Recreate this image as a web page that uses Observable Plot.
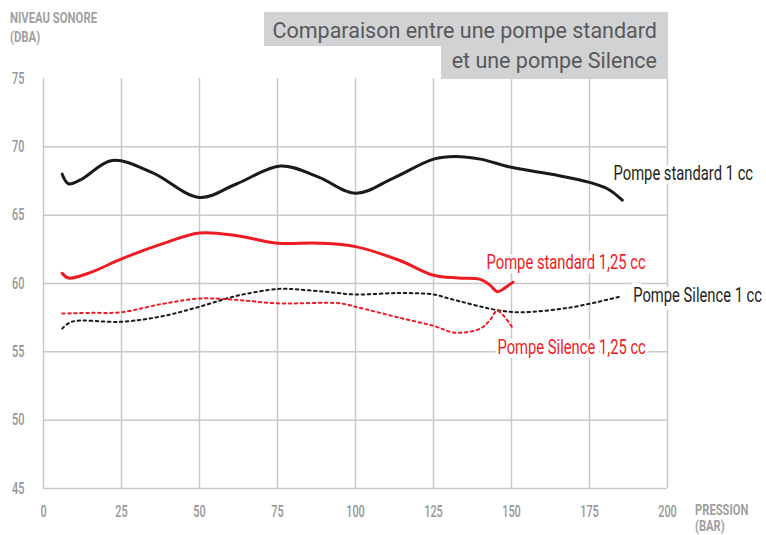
<!DOCTYPE html>
<html><head><meta charset="utf-8">
<script src="https://cdn.jsdelivr.net/npm/d3@7"></script>
<script src="https://cdn.jsdelivr.net/npm/@observablehq/plot@0.6"></script>
<style>
body{margin:0;background:#fff;}
#wrap{position:relative;width:766px;height:535px;overflow:hidden;}
.axt{position:absolute;color:#a0a0a0;font-family:Roboto,sans-serif;font-weight:bold;font-size:15.5px;line-height:19px;transform:scaleX(0.73);transform-origin:0 0;white-space:nowrap;}
.tb{position:absolute;background:#d1d2d4;color:#58595b;font-family:Roboto,"Open Sans",sans-serif;font-size:21.5px;text-align:right;box-sizing:border-box;padding-right:11px;}
</style></head>
<body><div id="wrap"></div>
<script>
// Data
const xTicks = [0, 25, 50, 75, 100, 125, 150, 175, 200];
const yTicks = [45, 50, 55, 60, 65, 70, 75];

const std1P = [6, 8, 12, 22, 35, 50, 62, 76, 88, 100, 112, 125, 132, 140, 150, 165, 175, 181, 185.5];
const std1L = [68.0, 67.3, 67.6, 69.0, 68.1, 66.3, 67.3, 68.6, 67.8, 66.6, 67.7, 69.1, 69.3, 69.1, 68.5, 67.9, 67.4, 66.9, 66.1];

const std125P = [6, 8, 15, 25, 38, 50, 62, 75, 88, 100, 114, 125, 133, 140, 143, 145.5, 148, 150.5];
const std125L = [60.75, 60.4, 60.8, 61.8, 62.9, 63.7, 63.5, 62.95, 62.95, 62.7, 61.7, 60.6, 60.4, 60.3, 59.9, 59.4, 59.7, 60.1];

const sil1P = [6, 9, 25, 38, 50, 62, 75, 79, 90, 100, 114, 125, 130, 145.5, 153, 169, 185];
const sil1L = [56.7, 57.2, 57.2, 57.6, 58.3, 59.1, 59.6, 59.6, 59.4, 59.2, 59.3, 59.2, 58.9, 58.05, 57.9, 58.25, 59.05];

const sil125P = [6, 15, 25, 38, 50, 62, 75, 95, 100, 114, 125, 132, 140, 143, 145.5, 150.5];
const sil125L = [57.8, 57.85, 57.9, 58.5, 58.9, 58.8, 58.55, 58.55, 58.3, 57.5, 56.9, 56.4, 56.7, 57.3, 58.0, 56.7];

const labelText = ["Pompe standard 1 cc", "Pompe standard 1,25 cc", "Pompe Silence 1 cc", "Pompe Silence 1,25 cc"];
const labelP = [182.7, 142, 189, 145.5];
const labelL = [68.05, 61.55, 59.1, 55.3];
const labelColor = ["#231f20", "#ed1c24", "#231f20", "#ed1c24"];

const RED = "#ed1c24", BLACK = "#1a1a1a";
const series = (P, L) => P.map((p, i) => ({p, l: L[i]}));
const labels = labelText.map((t, i) => ({t, p: labelP[i], l: labelL[i], c: labelColor[i]}));

const chart = Plot.plot({
  width: 766, height: 535,
  marginLeft: 43, marginRight: 99, marginTop: 78, marginBottom: 47,
  x: {domain: [0, 200]},
  y: {domain: [45, 75]},
  style: {fontFamily: "Roboto, sans-serif", background: "#fff", overflow: "visible"},
  marks: [
    Plot.ruleX(xTicks, {y1: 45, y2: 75, stroke: "#c9c9c9", strokeWidth: 1.5}),
    Plot.ruleY(yTicks.filter(d => d < 75), {x1: 0, x2: 200, stroke: "#c9c9c9", strokeWidth: 1.5}),
    Plot.axisX(xTicks, {tickSize: 0, tickPadding: 17, fill: "#969696", fontSize: 16.5, fontWeight: 500, label: null}),
    Plot.axisY(yTicks, {tickSize: 0, tickPadding: 19, fill: "#969696", fontSize: 16.5, fontWeight: 500, label: null}),
    Plot.text(labels, {x: "p", y: "l", text: "t", fill: "c", textAnchor: "start", fontSize: 20.5, stroke: "white", strokeWidth: 8, strokeLinejoin: "miter", className: "lbl"}),
    Plot.line(series(sil1P, sil1L), {x: "p", y: "l", stroke: BLACK, strokeWidth: 2, strokeDasharray: "2.5,3.5", curve: "catmull-rom"}),
    Plot.line(series(sil125P, sil125L), {x: "p", y: "l", stroke: RED, strokeWidth: 2, strokeDasharray: "2.5,3.5", curve: "catmull-rom"}),
    Plot.line(series(std125P, std125L), {x: "p", y: "l", stroke: RED, strokeWidth: 3, curve: "catmull-rom"}),
    Plot.line(series(std1P, std1L), {x: "p", y: "l", stroke: BLACK, strokeWidth: 3, curve: "catmull-rom"})
  ]
});
// condense SVG text horizontally (the reference uses a condensed typeface)
chart.querySelectorAll("text").forEach(t => {
  const s = t.closest(".lbl") ? 0.72 : 0.66;
  const xa = t.getAttribute("x");
  const x = xa && !isNaN(+xa) ? +xa : 0;
  if (xa && !isNaN(+xa)) t.removeAttribute("x");
  const tr = t.getAttribute("transform") || "";
  t.setAttribute("transform", `${tr} translate(${x},0) scale(${s},1)`);
});
const wrap = document.getElementById("wrap");
wrap.appendChild(chart);
wrap.insertAdjacentHTML("beforeend", `
<div class="axt" style="left:10px;top:9px;">NIVEAU SONORE<br>(DBA)</div>
<div class="axt" style="left:695px;top:502px;font-size:14px;line-height:16px;transform:scaleX(0.8);">PRESSION<br>(BAR)</div>
<div class="tb" style="left:264px;top:12px;width:404px;height:34px;line-height:37px;">Comparaison entre une pompe standard</div>
<div class="tb" style="left:441px;top:46px;width:227px;height:33px;line-height:30px;">et une pompe Silence</div>
`);
</script></body></html>
